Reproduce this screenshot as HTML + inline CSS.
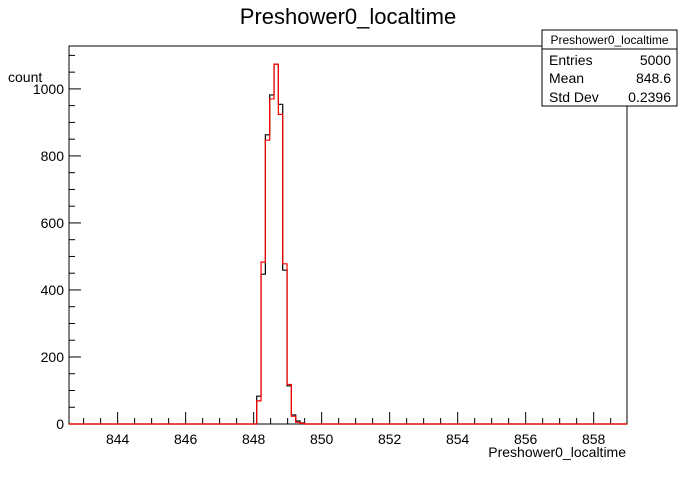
<!DOCTYPE html>
<html><head><meta charset="utf-8"><style>
body{margin:0;background:#fff;font-family:"Liberation Sans",sans-serif}
</style></head><body>
<svg id="c" width="696" height="472" xmlns="http://www.w3.org/2000/svg" font-family="Liberation Sans, sans-serif">
<rect width="696" height="472" fill="#fff"/>
<text x="348" y="24" font-size="22" text-anchor="middle">Preshower0_localtime</text>
<rect x="69" y="46" width="558" height="378" fill="none" stroke="#000" stroke-width="1"/>
<g id="axes"></g>
<g id="series"></g>
<text x="626" y="457" font-size="14" text-anchor="end">Preshower0_localtime</text>
<text x="8" y="82" font-size="14">count</text>
<g>
<rect x="542" y="30" width="135" height="76" fill="#fff" stroke="#000"/>
<line x1="542" y1="49" x2="677" y2="49" stroke="#000"/>
<text x="609.5" y="44" font-size="12" text-anchor="middle">Preshower0_localtime</text>
<text x="549" y="65" font-size="14">Entries</text><text x="671" y="65" font-size="14" text-anchor="end">5000</text>
<text x="549" y="83" font-size="14">Mean</text><text x="671" y="83" font-size="14" text-anchor="end">848.6</text>
<text x="549" y="102" font-size="14">Std Dev</text><text x="671" y="102" font-size="14" text-anchor="end">0.2396</text>
</g>
</svg>
<script>
const binStart = 848.09;
const binWidth = 0.1275;
const blackCounts = [83, 447, 863, 982, 1074, 954, 459, 114, 27, 9, 3];
const redCounts = [69, 483, 847, 970, 1074, 924, 478, 118, 23, 5, 2];
const xTicks = [844, 846, 848, 850, 852, 854, 856, 858];
const yTicks = [0, 200, 400, 600, 800, 1000];
const X0=69,X1=627,Y0=424,Y1=46;
const xmin=842.57,xmax=858.98,ymax=1128;
const sx=v=>X0+(v-xmin)/(xmax-xmin)*(X1-X0);
const sy=v=>Y0-v/ymax*(Y0-Y1);
const NS="http://www.w3.org/2000/svg";
const axes=document.getElementById('axes');
function mk(t,a,p){const e=document.createElementNS(NS,t);for(const k in a)e.setAttribute(k,a[k]);p.appendChild(e);return e;}
for(let v=843;v<=858.9;v+=0.5){const major=Math.abs(v-Math.round(v/2)*2)<1e-6;const x=sx(v);
 const l=mk('line',{x1:x,x2:x,y1:Y0,y2:Y0-(major?12:6),stroke:'#000'},axes);
 
 }
xTicks.forEach(v=>{const t=mk('text',{x:sx(v),y:444,'font-size':14,'text-anchor':'middle'},axes);t.textContent=v;
 
 });
for(let v=0;v<=1100;v+=50){const major=v%200===0;const y=sy(v);
 const l=mk('line',{x1:X0,x2:X0+(major?12:6),y1:y,y2:y,stroke:'#000'},axes);
 
 }
yTicks.forEach(v=>{const t=mk('text',{x:64,y:sy(v)+5,'font-size':14,'text-anchor':'end'},axes);t.textContent=v;
 
 });
function hist(counts,color,name){
 let d='M'+X0+','+Y0+' L'+sx(binStart)+','+Y0;
 counts.forEach((c,i)=>{const a=sx(binStart+i*binWidth),b=sx(binStart+(i+1)*binWidth);d+=' L'+a+','+sy(c)+' L'+b+','+sy(c);});
 d+=' L'+sx(binStart+counts.length*binWidth)+','+Y0+' L'+X1+','+Y0;
 const p=mk('path',{d:d,fill:'none',stroke:color,'stroke-width':1.2},document.getElementById('series'));
 
 }
hist(blackCounts,'#000','histogram-black');
hist(redCounts,'#f00','histogram-red');
</script>
</body></html>
